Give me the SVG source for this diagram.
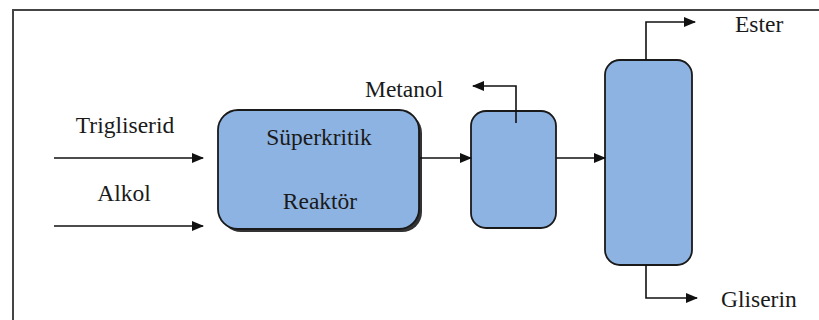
<svg xmlns="http://www.w3.org/2000/svg" width="819" height="320" viewBox="0 0 819 320">
<style>
.t{font-family:'Liberation Serif','DejaVu Serif',serif;font-size:23.5px;fill:#1a1a1a}
.box{fill:#8DB3E2;stroke:#1a1a1a;stroke-width:1.8}
.ln{fill:none;stroke:#111;stroke-width:1.6}
</style>
<defs>
<marker id="ah" markerWidth="12" markerHeight="10" refX="11" refY="5" orient="auto" markerUnits="userSpaceOnUse">
<path d="M0,0 L12,5 L0,10 Z" fill="#111"/>
</marker>
</defs>
<rect width="819" height="320" fill="#fff"/>
<path d="M13,320 V10 H819" fill="none" stroke="#444" stroke-width="2"/>
<g id="reactor">
<rect x="221" y="113" width="201" height="119" rx="20" fill="#333"/>
<rect class="box" x="218" y="110" width="201" height="119" rx="20"/>
<text class="t" x="319" y="145" text-anchor="middle">Süperkritik</text>
<text class="t" x="320" y="209" text-anchor="middle">Reaktör</text>
</g>
<g id="separator">
<rect class="box" x="471" y="111" width="85" height="117" rx="15"/>
</g>
<g id="column">
<rect class="box" x="605" y="60" width="87" height="205" rx="15"/>
</g>
<g id="labels">
<text class="t" x="125" y="133" text-anchor="middle">Trigliserid</text>
<text class="t" x="124" y="201" text-anchor="middle">Alkol</text>
<text class="t" x="365" y="97">Metanol</text>
<text class="t" x="735" y="32">Ester</text>
<text class="t" x="721" y="307">Gliserin</text>
</g>
<g id="connectors">
<line class="ln" x1="54" y1="158" x2="203" y2="158" marker-end="url(#ah)"/>
<line class="ln" x1="54" y1="226" x2="203" y2="226" marker-end="url(#ah)"/>
<line class="ln" x1="420" y1="158" x2="471" y2="158" marker-end="url(#ah)"/>
<line class="ln" x1="556" y1="158" x2="605" y2="158" marker-end="url(#ah)"/>
<polyline class="ln" points="516,123 516,86 473,86" marker-end="url(#ah)"/>
<polyline class="ln" points="646,60 646,22 695,22" marker-end="url(#ah)"/>
<polyline class="ln" points="646,265 646,298 697,298" marker-end="url(#ah)"/>
</g>
</svg>
